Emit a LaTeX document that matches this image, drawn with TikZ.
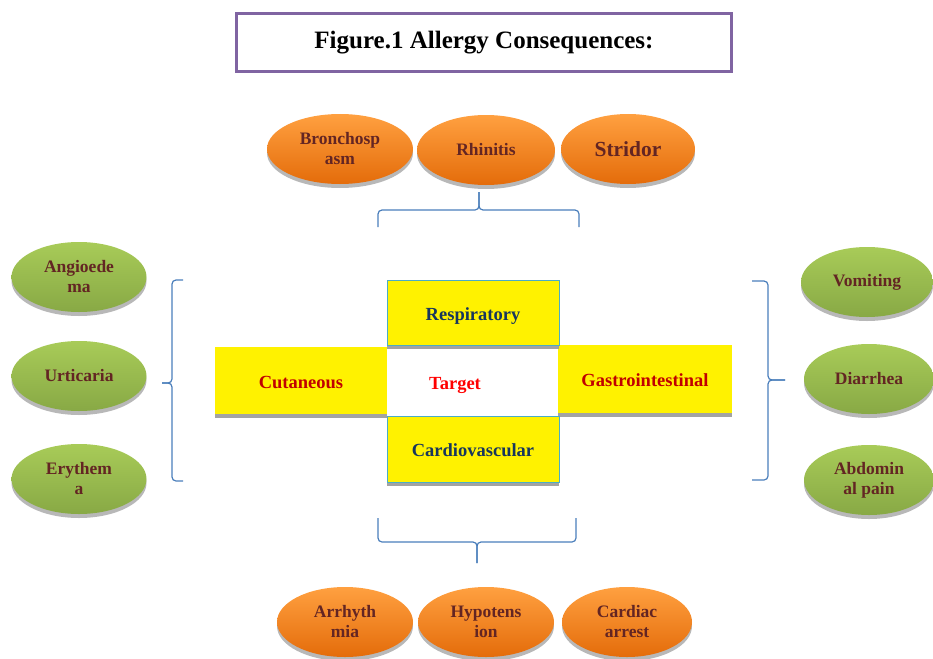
\documentclass[tikz,border=0pt]{standalone}
\usepackage{fontspec}
\setmainfont{Liberation Serif}
\usetikzlibrary{shapes.geometric,shadows}
\definecolor{orTop}{HTML}{FFA040}
\definecolor{orBot}{HTML}{E46C0A}
\definecolor{grTop}{HTML}{A8CB58}
\definecolor{grBot}{HTML}{88A945}
\definecolor{ellText}{HTML}{632523}
\definecolor{navyText}{HTML}{17365D}
\definecolor{redText}{HTML}{C00000}
\definecolor{boxBorder}{HTML}{4BACC6}
\definecolor{titleBorder}{HTML}{8064A2}
\definecolor{braceBlue}{HTML}{4A7EBB}
\begin{document}
\begin{tikzpicture}[x=1pt,y=-1pt,
  ell/.style={ellipse, minimum width=138pt, minimum height=70pt, inner sep=0pt, align=center,
    draw=none, text=ellText, font=\bfseries\fontsize{17.5}{20}\selectfont,
    drop shadow={shadow xshift=0pt, shadow yshift=-4pt, fill=black!35, opacity=0.8}},
  orangeell/.style={ell, top color=orTop, bottom color=orBot},
  greenell/.style={ell, top color=grTop, bottom color=grBot},
  ybox/.style={rectangle, fill=yellow, inner sep=0pt, minimum width=172pt, minimum height=66pt,
    text height=17pt, text depth=2pt,
    font=\bfseries\fontsize{18.5}{22}\selectfont,
    drop shadow={shadow xshift=0pt, shadow yshift=-4pt, fill=black!40, opacity=0.9}},
  bluebox/.style={ybox, draw=boxBorder, line width=1pt, text=navyText},
  redbox/.style={ybox, text=redText},
  bracepath/.style={draw=braceBlue, line width=1.2pt, rounded corners=4pt}
]
\useasboundingbox (0,0) rectangle (933,658);

% Title
\node[draw=titleBorder, line width=3pt, minimum width=495pt, minimum height=58pt, inner sep=0pt,
      font=\bfseries\fontsize{25}{30}\selectfont] (title) at (484,42.5) {Figure.1 Allergy Consequences:};

% Top ellipses (respiratory)
\node[orangeell, minimum width=146pt] (broncho) at (340,149) {Bronchosp\\asm};
\node[orangeell] (rhinitis) at (486,150) {Rhinitis};
\node[orangeell, minimum width=134pt, font=\bfseries\fontsize{21.5}{24}\selectfont] (stridor) at (628,149) {Stridor};

% Left ellipses (cutaneous)
\node[greenell, minimum width=135pt] (angio) at (79,277) {Angioede\\ma};
\node[greenell, minimum width=135pt] (urtic) at (79,376) {Urticaria};
\node[greenell, minimum width=135pt] (eryth) at (79,479) {Erythem\\a};

% Right ellipses (gastrointestinal)
\node[greenell, minimum width=132pt] (vomit) at (867,282) {Vomiting};
\node[greenell, minimum width=130pt] (diarr) at (869,379) {Diarrhea};
\node[greenell, minimum width=130pt] (abdo) at (869,480) {Abdomin\\al pain};

% Bottom ellipses (cardiovascular)
\node[orangeell, minimum width=136pt] (arrhy) at (345,622) {Arrhyth\\mia};
\node[orangeell, minimum width=136pt] (hypo) at (486,622) {Hypotens\\ion};
\node[orangeell, minimum width=130pt] (cardiac) at (627,622) {Cardiac\\arrest};

% Central boxes
\node[redbox, minimum height=67pt] (cut) at (301,380.5) {Cutaneous};
\node[redbox, minimum width=174pt, minimum height=68pt] (gastro) at (645,379) {Gastrointestinal};
\node[bluebox, minimum height=65pt] (resp) at (473,312.5) {Respiratory};
\node[bluebox] (cardio) at (473,449) {Cardiovascular};
\node[text=red, font=\bfseries\fontsize{18.5}{22}\selectfont] (target) at (455,385) {Target};

% Braces
% top
\coordinate (tbL) at (378,227); \coordinate (tbR) at (579,227); \coordinate (tbT) at (479,192);
\draw[bracepath] (tbL) -- (378,210) -- (479,210) -- (tbT);
\draw[bracepath] (tbR) -- (579,210) -- (479,210) -- (tbT);
% left
\coordinate (lbT) at (183,280); \coordinate (lbB) at (183,481); \coordinate (lbP) at (162,383);
\draw[bracepath] (lbT) -- (172,280) -- (172,383) -- (lbP);
\draw[bracepath] (lbB) -- (172,481) -- (172,383) -- (lbP);
% right
\coordinate (rbT) at (752,281); \coordinate (rbB) at (752,480); \coordinate (rbP) at (785,380);
\draw[bracepath] (rbT) -- (768,281) -- (768,380) -- (rbP);
\draw[bracepath] (rbB) -- (768,480) -- (768,380) -- (rbP);
% bottom
\coordinate (bbL) at (378,518); \coordinate (bbR) at (576,518); \coordinate (bbP) at (477,563);
\draw[bracepath] (bbL) -- (378,542) -- (477,542) -- (bbP);
\draw[bracepath] (bbR) -- (576,542) -- (477,542) -- (bbP);
\end{tikzpicture}
\end{document}
